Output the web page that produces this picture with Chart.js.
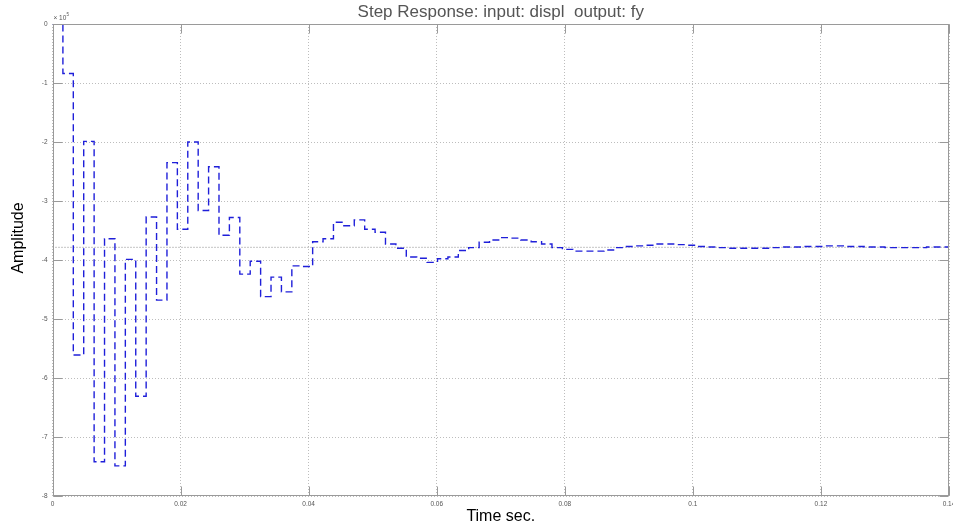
<!DOCTYPE html>
<html>
<head>
<meta charset="utf-8">
<script src="https://cdn.jsdelivr.net/npm/chart.js@4.4.1/dist/chart.umd.min.js"></script>
<style>
  html, body { margin: 0; padding: 0; background: #fff; }
  #wrap { width: 953px; height: 529px; }
</style>
</head>
<body>
<div id="wrap"><canvas id="step" width="953" height="529"></canvas></div>
<script>
// sample period of the discrete step response (s)
const sampleTime = 0.001625;

// output fy, in units of 1e5, one value per sample (zero-order hold)
const amplitude = [
  0, -0.84, -5.61, -1.99, -7.42, -3.64, -7.49, -3.99, -6.31, -3.27,
  -4.68, -2.35, -3.48, -2.00, -3.16, -2.42, -3.58, -3.28, -4.24, -4.02,
  -4.62, -4.29, -4.54, -4.10, -4.11, -3.69, -3.64, -3.36, -3.42, -3.32,
  -3.48, -3.53, -3.73, -3.80, -3.95, -3.97, -4.04, -3.98, -3.95, -3.84,
  -3.79, -3.70, -3.66, -3.62, -3.63, -3.66, -3.69, -3.73, -3.79, -3.82,
  -3.85, -3.85, -3.85, -3.83, -3.79, -3.77, -3.76, -3.75, -3.73, -3.73,
  -3.74, -3.75, -3.77, -3.78, -3.79, -3.80, -3.80, -3.80, -3.80, -3.79,
  -3.78, -3.78, -3.77, -3.77, -3.76, -3.76, -3.77, -3.77, -3.78, -3.78,
  -3.79, -3.79, -3.79, -3.79, -3.78, -3.78, -3.78
];
const steadyState = -3.785;
const timeEnd = 0.14;

const xTicks = [0, 0.02, 0.04, 0.06, 0.08, 0.1, 0.12, 0.14];
const xTickLabels = ["0", "0.02", "0.04", "0.06", "0.08", "0.1", "0.12", "0.14"];
const yTicks = [0, -1, -2, -3, -4, -5, -6, -7, -8];
const yTickLabels = ["0", "-1", "-2", "-3", "-4", "-5", "-6", "-7", "-8"];

const font = "'Liberation Sans', Arial, Helvetica, sans-serif";

const points = amplitude.map((v, k) => ({ x: k * sampleTime, y: v }));
points.push({ x: timeEnd, y: amplitude[amplitude.length - 1] });

// MATLAB style box with inward ticks, y label and exponent
const matlabAxes = {
    id: "matlabAxes",
    afterDraw(chart) {
        const { ctx, chartArea: a, scales } = chart;
        const L = Math.round(a.left) + 0.5, R = Math.round(a.right) - 0.5;
        const T = Math.round(a.top) + 0.5, B = Math.round(a.bottom) - 0.5;
        ctx.save();
        ctx.strokeStyle = "#9a9a9a";
        ctx.lineWidth = 1;
        ctx.setLineDash([]);
        ctx.strokeRect(L, T, R - L, B - T);

        ctx.beginPath();
        xTicks.forEach(v => {
            const px = Math.round(scales.x.getPixelForValue(v)) + 0.5;
            ctx.moveTo(px, B); ctx.lineTo(px, B - 9);
            ctx.moveTo(px, T); ctx.lineTo(px, T + 9);
        });
        yTicks.forEach(v => {
            const py = Math.round(scales.y.getPixelForValue(v)) + 0.5;
            ctx.moveTo(L, py); ctx.lineTo(L + 9, py);
            ctx.moveTo(R, py); ctx.lineTo(R - 9, py);
        });
        ctx.stroke();

        // y axis label
        ctx.fillStyle = "#000";
        ctx.font = "16px " + font;
        ctx.textAlign = "center";
        ctx.textBaseline = "middle";
        ctx.translate(19, 238);
        ctx.rotate(-Math.PI / 2);
        ctx.fillText("Amplitude", 0, 0);
        ctx.restore();

        // exponent
        ctx.save();
        ctx.fillStyle = "#555";
        ctx.textAlign = "left";
        ctx.textBaseline = "alphabetic";
        ctx.font = "6.5px " + font;
        ctx.fillText("\u00d7 10", a.left + 1, a.top - 4);
        ctx.font = "4.5px " + font;
        ctx.fillText("5", a.left + 14, a.top - 8);
        ctx.restore();
    }
};

new Chart(document.getElementById("step"), {
    type: "line",
    data: {
        datasets: [{
            data: points,
            stepped: true,
            borderColor: "#1f1fd9",
            borderWidth: 1.4,
            borderDash: [7, 4],
            pointRadius: 0,
            fill: false,
            tension: 0
        }, {
            data: [{ x: 0, y: steadyState }, { x: timeEnd, y: steadyState }],
            borderColor: "#8a8a8a",
            borderWidth: 1,
            borderDash: [1, 2],
            pointRadius: 0,
            fill: false
        }]
    },
    options: {
        responsive: false,
        animation: false,
        devicePixelRatio: 1,
        layout: { padding: { left: 0, right: 4, top: 0, bottom: 0 } },
        plugins: {
            legend: { display: false },
            tooltip: { enabled: false },
            title: {
                display: true,
                fullSize: false,
                text: "Step Response: input: displ  output: fy",
                color: "#555",
                font: { family: font, size: 17, weight: "normal" },
                padding: { top: 2, bottom: 1.6 }
            }
        },
        scales: {
            x: {
                type: "linear",
                min: 0,
                max: timeEnd,
                afterBuildTicks: s => { s.ticks = xTicks.map(v => ({ value: v })); },
                afterFit: s => { s.height = 33; s.paddingLeft = 0; s.paddingRight = 0; },
                ticks: {
                    callback: (v, i) => xTickLabels[i],
                    font: { family: font, size: 6.5 },
                    color: "#555",
                    padding: 4,
                    maxRotation: 0,
                    autoSkip: false
                },
                grid: { color: "#bdbdbd", lineWidth: 1, drawTicks: false },
                border: { display: false, dash: [1, 2] },
                title: {
                    display: true,
                    text: "Time sec.",
                    color: "#000",
                    font: { family: font, size: 16 },
                    padding: { top: 0, bottom: 3 }
                }
            },
            y: {
                type: "linear",
                min: -8,
                max: 0,
                afterBuildTicks: s => { s.ticks = yTicks.map(v => ({ value: v })); },
                afterFit: s => { s.width = 52.5; s.paddingTop = 0; s.paddingBottom = 0; },
                ticks: {
                    callback: (v, i) => yTickLabels[i],
                    font: { family: font, size: 6.5 },
                    color: "#555",
                    padding: 5
                },
                grid: { color: "#bdbdbd", lineWidth: 1, drawTicks: false },
                border: { display: false, dash: [1, 2] }
            }
        }
    },
    plugins: [matlabAxes]
});
</script>
</body>
</html>
